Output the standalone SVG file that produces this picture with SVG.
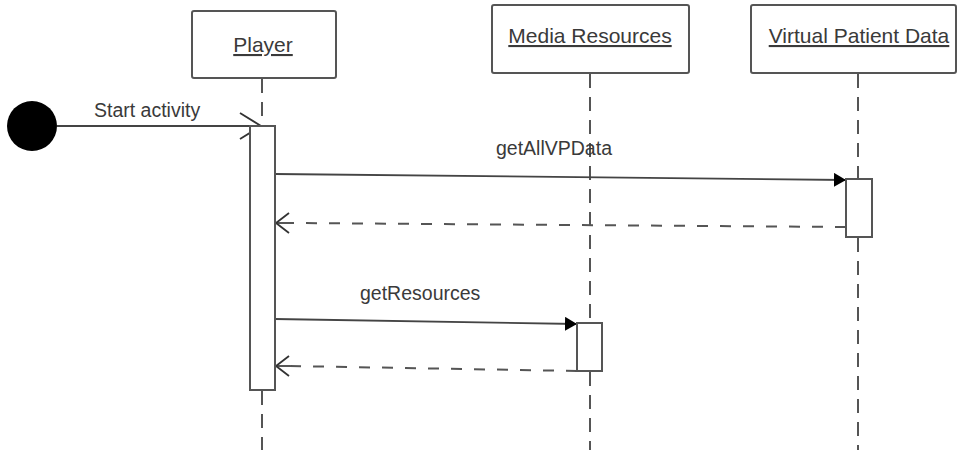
<svg xmlns="http://www.w3.org/2000/svg" width="958" height="450" viewBox="0 0 958 450">
  <style>
    .box { fill: #fff; stroke: #555; stroke-width: 2; }
    .act { fill: #fff; stroke: #555; stroke-width: 2; }
    .title { font-family: "Liberation Sans", Arial, sans-serif; font-size: 21px; fill: #3a3a3a; text-anchor: middle; text-decoration: underline; }
    .label { font-family: "Liberation Sans", Arial, sans-serif; font-size: 19.5px; fill: #3a3a3a; }
    .life { stroke: #555; stroke-width: 2; stroke-dasharray: 14 9; fill: none; }
    .msg { stroke: #444; stroke-width: 1.8; fill: none; }
    .ret { stroke: #555; stroke-width: 2; stroke-dasharray: 11 12; fill: none; }
    .open { stroke: #333; stroke-width: 1.8; fill: none; }
  </style>
  <defs>
    <marker id="filled" markerWidth="14" markerHeight="16" refX="12" refY="7" orient="auto" markerUnits="userSpaceOnUse">
      <path d="M0,0 L12,7 L0,14 Z" fill="#000"/>
    </marker>
  </defs>

  <rect width="958" height="450" fill="#fff"/>

  <!-- lifelines -->
  <g id="lifelines">
    <line class="life" x1="262" y1="79" x2="262" y2="126"/>
    <line class="life" x1="262" y1="391" x2="262" y2="450"/>
    <line class="life" x1="590" y1="74" x2="590" y2="323"/>
    <line class="life" x1="590" y1="372" x2="590" y2="450"/>
    <line class="life" x1="858" y1="74" x2="858" y2="179"/>
    <line class="life" x1="858" y1="238" x2="858" y2="450"/>
  </g>

  <!-- messages -->
  <g id="connectors">
    <line class="msg" x1="57" y1="126" x2="262" y2="126"/>
    <polyline class="open" points="240,113 261,126 240,139"/>
    <line class="msg" x1="275" y1="174" x2="846" y2="180" marker-end="url(#filled)"/>
    <line class="ret" x1="846" y1="227" x2="290" y2="223"/>
    <line class="msg" x1="275" y1="223" x2="290" y2="223"/>
    <polyline class="open" points="289,213 276,223 289,233"/>
    <line class="msg" x1="275" y1="319" x2="577" y2="324" marker-end="url(#filled)"/>
    <line class="ret" x1="577" y1="371" x2="290" y2="366"/>
    <line class="msg" x1="275" y1="366" x2="290" y2="366"/>
    <polyline class="open" points="289,356 276,366 289,376"/>
  </g>

  <!-- start node -->
  <g id="start">
    <circle cx="32" cy="126" r="25" fill="#000"/>
  </g>

  <g id="player">
    <rect class="box" x="192" y="11" width="144" height="67" rx="2"/>
    <text class="title" x="263" y="52">Player</text>
    <rect class="act" x="250" y="126" width="25" height="264"/>
  </g>

  <g id="media-resources">
    <rect class="box" x="492" y="5" width="197" height="68" rx="2"/>
    <text class="title" x="590" y="43">Media Resources</text>
    <rect class="act" x="577" y="323" width="25" height="48"/>
  </g>

  <g id="virtual-patient-data">
    <rect class="box" x="751" y="5" width="205" height="68" rx="2"/>
    <text class="title" x="859" y="43">Virtual Patient Data</text>
    <rect class="act" x="846" y="179" width="26" height="58"/>
  </g>

  <!-- labels -->
  <g id="labels">
    <text class="label" x="94" y="117">Start activity</text>
    <text class="label" x="496" y="155">getAllVPData</text>
    <text class="label" x="360" y="300">getResources</text>
  </g>
</svg>
